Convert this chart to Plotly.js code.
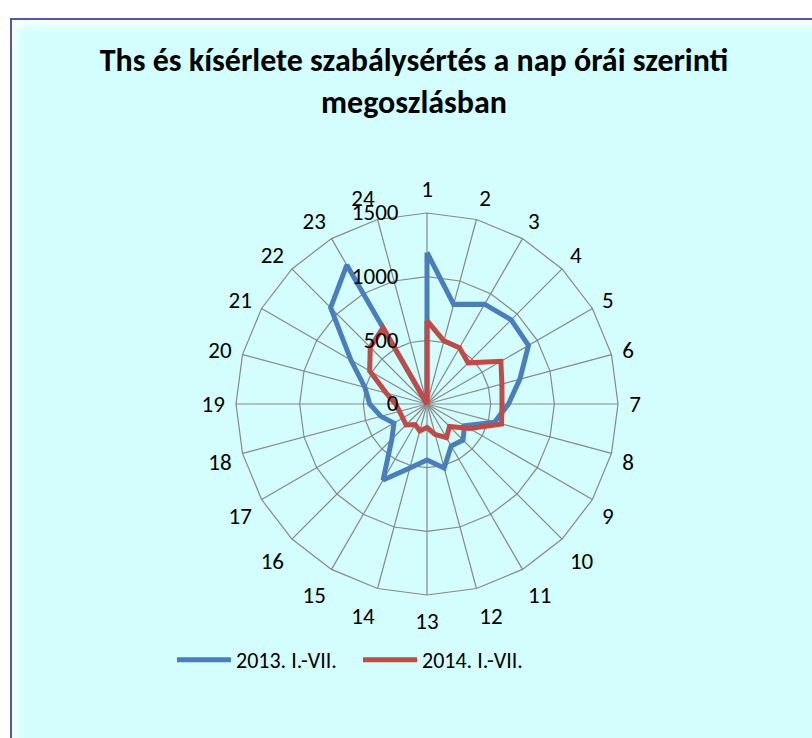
<!DOCTYPE html>
<html><head><meta charset="utf-8">
<script src="https://cdn.plot.ly/plotly-3.0.1.min.js"></script>
<style>
html,body{margin:0;padding:0;background:#fff;width:812px;height:738px;overflow:hidden;}
#frame{position:absolute;left:10px;top:18px;width:830px;height:760px;background:#D4FEFE;border:2px solid #4E5BA6;box-shadow: inset 4px 6px 8px rgba(255,255,255,0.95);}
#chart{position:absolute;left:0;top:0;width:812px;height:738px;}
</style></head><body>
<div id="frame"></div><div id="chart"></div>
<script>
const hours = ["1","2","3","4","5","6","7","8","9","10","11","12","13","14","15","16","17","18","19","20","21","22","23","24"];
const series2013 = [1190, 810, 905, 935, 920, 755, 640, 550, 340, 400, 380, 520, 440, 520, 690, 390, 300, 375, 450, 505, 690, 1070, 1260, 0];
const series2014 = [654, 513, 510, 457, 670, 609, 589, 606, 386, 250, 305, 248, 185, 219, 186, 232, 220, 224, 246, 331, 520, 630, 691, 0];
const names = ["2013. I.-VII.", "2014. I.-VII."];
const colors = ["#4A7EBB", "#BE4B48"];

const FONT = "Calibri, Carlito, 'Liberation Sans', Arial, sans-serif";

function closed(a){ return a.concat([a[0]]); }

const traces = [series2013, series2014].map((s, i) => ({
  type: 'scatterpolar',
  mode: 'lines',
  r: closed(s),
  theta: closed(hours),
  name: names[i],
  line: {color: colors[i], width: 5},
  hoverinfo: 'skip'
}));

const layout = {
  width: 812, height: 738,
  margin: {l:0, r:0, t:0, b:0},
  paper_bgcolor: 'rgba(0,0,0,0)',
  plot_bgcolor: 'rgba(0,0,0,0)',
  title: {
    text: 'Ths és kísérlete szabálysértés a nap órái szerinti<br>megoszlásban',
    font: {family: FONT, size: 32, color: '#000', weight: 'bold'},
    x: 414/812, xref: 'paper', xanchor: 'center',
    y: 1 - 71/738, yref: 'paper', yanchor: 'top'
  },
  polar: {
    domain: {x: [236/812, 618/812], y: [143/738, 525/738]},
    bgcolor: 'rgba(0,0,0,0)',
    gridshape: 'linear',
    radialaxis: {
      range: [0, 1500], tick0: 0, dtick: 500, angle: 90, side: 'counterclockwise',
      tickangle: 90,
      showline: false, gridcolor: '#878787', gridwidth: 1.2,
      ticks: 'outside', ticklen: 20, tickcolor: 'rgba(0,0,0,0)',
      tickfont: {family: FONT, size: 23, color: '#000'}
    },
    angularaxis: {
      type: 'category', direction: 'clockwise', rotation: 90,
      gridcolor: '#878787', gridwidth: 1.2,
      showline: true, linecolor: '#878787', linewidth: 1.2,
      ticks: 'outside', ticklen: 6, tickcolor: 'rgba(0,0,0,0)',
      tickfont: {family: FONT, size: 23, color: '#000'}
    }
  },
  showlegend: true,
  legend: {
    orientation: 'h', xref: 'paper', x: 172/812, xanchor: 'left',
    yref: 'paper', y: 1 - 660/738, yanchor: 'middle',
    itemwidth: 54, entrywidth: 117,
    font: {family: FONT, size: 22, color: '#000'},
    bgcolor: 'rgba(0,0,0,0)'
  }
};

Plotly.newPlot('chart', traces, layout, {staticPlot: true, displayModeBar: false});
</script>
</body></html>
